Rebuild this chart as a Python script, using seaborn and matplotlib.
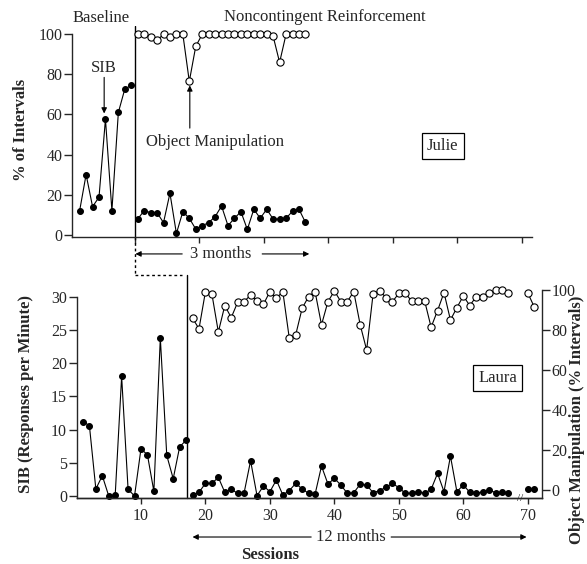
import matplotlib
matplotlib.use("Agg")
import matplotlib.pyplot as plt
import seaborn as sns

# ---- Julie (top panel), % of intervals ----
julie_bl_sessions = list(range(1, 10))
julie_bl_sib = [12, 30, 14, 18.7, 57.7, 12, 61, 72.7, 74.5]
julie_tx_sessions = list(range(10, 37))
julie_tx_sib = [7.8, 12, 11, 11, 6, 20.7, 0.6, 11.5, 8.2, 2.8, 4.5, 6, 9, 14.3,
                4.5, 8.2, 11.5, 2.6, 12.7, 8.2, 12.7, 7.8, 7.8, 8.2, 11.7, 12.7, 6.2]
julie_tx_obj = [100, 100, 98.7, 97, 100, 98.7, 100, 100, 76.5, 94,
                100, 100, 100, 100, 100, 100, 100, 100, 100, 100, 100,
                99, 86, 100, 100, 100, 100]

# ---- Laura (bottom panel) ----
laura_bl_sessions = list(range(1, 18))
laura_bl_sib = [11.2, 10.6, 1.05, 3.05, 0, 0.1, 18.0, 1.0, 0, 7.1, 6.2, 0.7,
                23.8, 6.1, 2.6, 7.4, 8.4]
laura_tx_sessions = list(range(18, 68))
laura_tx_sib = [0.15, 0.55, 1.9, 1.9, 2.8, 0.55, 1.0, 0.4, 0.5, 5.3,
                0.05, 1.5, 0.65, 2.4, 0.15, 0.8, 1.9, 1.05, 0.4, 0.25,
                4.5, 1.8, 2.65, 1.65, 0.4, 0.5, 1.75, 1.65, 0.5, 0.8,
                1.3, 1.9, 1.25, 0.4, 0.4, 0.65, 0.4, 1.0, 3.4, 0.65,
                6.0, 0.65, 1.65, 0.55, 0.5, 0.55, 0.9, 0.5, 0.55, 0.4]
laura_tx_obj = [85.9, 80.6, 99.2, 98, 79, 92.2, 86.2, 93.9, 94.2, 97.5,
                94.5, 92.9, 99.2, 95.9, 99.2, 76, 77.6, 90.9, 96.7, 99.2,
                82.6, 94.2, 99.5, 94.2, 94.2, 99.2, 82.6, 70, 98, 99.7,
                96.2, 94.2, 98.3, 98.3, 94.5, 94.5, 94.5, 81.4, 89.7, 98.7,
                85, 91.2, 97, 92.2, 96.7, 96.7, 98.3, 100, 100, 98.5]
laura_late_sessions = [70, 71]
laura_late_sib = [1.0, 1.0]
laura_late_obj = [98.5, 91.5]

sib_ticks = [0, 5, 10, 15, 20, 25, 30]
pct_ticks = [0, 20, 40, 60, 80, 100]
session_ticks = [10, 20, 30, 40, 50, 60, 70]
julie_phase = 9.55
laura_phase = 17.2

sns.set_theme(style="ticks")
plt.rcParams["font.family"] = ["Liberation Serif", "DejaVu Serif"]
plt.rcParams["axes.linewidth"] = 1.0

W, H = 587, 564
fig = plt.figure(figsize=(W / 100, H / 100), dpi=100)


def series(ax, x, y, filled):
    sns.lineplot(x=x, y=y, ax=ax, color="black", linewidth=0.8, marker="o",
                 markersize=4.2 if filled else 5.2,
                 markerfacecolor="black" if filled else "white",
                 markeredgecolor="black", markeredgewidth=0.8,
                 errorbar=None, legend=False, zorder=3, clip_on=False)


# ---------------- top panel: Julie ----------------
axt = fig.add_axes([72.3 / W, (H - 237.3) / H, (531.6 - 72.3) / W, 211 / H])
series(axt, julie_bl_sessions, julie_bl_sib, True)
series(axt, julie_tx_sessions, julie_tx_sib, True)
series(axt, julie_tx_sessions, julie_tx_obj, False)
axt.set_xlim(-0.14, 71.07)
axt.set_ylim(-1.3, 104)
axt.set_yticks(pct_ticks)
axt.set_xticks([julie_phase + 10 * k for k in range(7)])
axt.set_xticklabels([])
axt.spines[["top", "right"]].set_visible(False)
axt.spines["left"].set_bounds(-1.3, 100)
axt.tick_params(axis="y", length=6, width=1, pad=1, labelsize=11.5)
axt.tick_params(axis="x", length=4, width=1)
axt.set_xlabel("")
axt.set_ylabel("")
axt.plot([julie_phase, julie_phase], [-1.3, 104], color="black", lw=1.0)
axt.plot([julie_phase, julie_phase], [-1.3, -20], color="black", lw=1.0,
         ls=(0, (2, 2)), clip_on=False)
axt.plot([julie_phase, laura_phase - 0.3], [-20, -20], color="black", lw=1.0,
         ls=(0, (2, 2)), clip_on=False)

txt = dict(fontsize=12, ha="center", va="center", annotation_clip=False)
axt.annotate("Baseline", xy=(4.3, 108.1), **txt)
axt.annotate("Noncontingent Reinforcement", xy=(39.0, 108.8), **txt)
axt.annotate("SIB", xy=(4.8, 83.2), **txt)
axt.annotate("", xy=(4.8, 60.5), xytext=(4.8, 78.5),
             arrowprops=dict(arrowstyle="-|>", color="black", lw=0.8,
                             mutation_scale=8, shrinkA=0, shrinkB=0))
axt.annotate("Object Manipulation", xy=(22.0, 46.4), **txt)
axt.annotate("", xy=(18.08, 74.5), xytext=(18.08, 53.2),
             arrowprops=dict(arrowstyle="-|>", color="black", lw=0.8,
                             mutation_scale=8, shrinkA=0, shrinkB=0))
axt.text(57.3, 44.3, "Julie", fontsize=12, ha="center", va="center",
         bbox=dict(boxstyle="square,pad=0.3", fc="white", ec="black", lw=0.9))
axt.annotate("3 months", xy=(22.9, -9.6), **txt)
arr = dict(arrowstyle="-|>", color="black", lw=0.8, mutation_scale=8,
           shrinkA=0, shrinkB=0)
axt.annotate("", xy=(julie_phase + 0.1, -9.6), xytext=(16.9, -9.6),
             arrowprops=arr, annotation_clip=False)
axt.annotate("", xy=(36.6, -9.6), xytext=(29.3, -9.6),
             arrowprops=arr, annotation_clip=False)

# ---------------- bottom panel: Laura ----------------
axb = fig.add_axes([76.7 / W, (H - 498.3) / H, (542 - 76.7) / W, 208.5 / H])
ax2 = axb.twinx()
series(axb, laura_bl_sessions, laura_bl_sib, True)
series(axb, laura_tx_sessions, laura_tx_sib, True)
series(axb, laura_late_sessions, laura_late_sib, True)
series(ax2, laura_tx_sessions, laura_tx_obj, False)
series(ax2, laura_late_sessions, laura_late_obj, False)
axb.set_xlim(0.03, 72.2)
axb.set_ylim(-0.35, 31.05)
ax2.set_ylim(-4.15, 100.1)
axb.set_yticks(sib_ticks)
ax2.set_yticks(pct_ticks)
axb.set_xticks(session_ticks)
for a in (axb, ax2):
    a.spines["top"].set_visible(False)
    a.set_xlabel("")
    a.set_ylabel("")
axb.spines["right"].set_visible(False)
ax2.spines["left"].set_visible(False)
axb.spines["left"].set_bounds(-0.35, 30)
ax2.spines["right"].set_bounds(-4.15, 100)
axb.tick_params(axis="y", length=6, width=1, pad=1, labelsize=11.5)
ax2.tick_params(axis="y", length=6, width=1, pad=1, labelsize=11.5)
axb.tick_params(axis="x", length=4, width=1, pad=3, labelsize=11.5)
axb.plot([laura_phase, laura_phase], [-0.35, 33.3], color="black", lw=1.0,
         clip_on=False)
axb.text(68.8, -0.35, "//", fontsize=8, ha="center", va="center")

axb.text(65.3, 17.8, "Laura", fontsize=12, ha="center", va="center",
         bbox=dict(boxstyle="square,pad=0.3", fc="white", ec="black", lw=0.9))
axb.annotate("12 months", xy=(42.6, -6.18), **txt)
axb.annotate("", xy=(18.0, -6.18), xytext=(36.4, -6.18),
             arrowprops=arr, annotation_clip=False)
axb.annotate("", xy=(69.8, -6.18), xytext=(48.8, -6.18),
             arrowprops=arr, annotation_clip=False)
axb.annotate("Sessions", xy=(30.0, -8.9), fontsize=12, fontweight="bold",
             ha="center", va="center", annotation_clip=False)

fig.text(21 / W, 1 - 130 / H, "% of Intervals", rotation=90, ha="center",
         va="center", fontsize=12, fontweight="bold")
fig.text(26 / W, 1 - 394 / H, "SIB (Responses per Minute)", rotation=90,
         ha="center", va="center", fontsize=12, fontweight="bold")
fig.text(577 / W, 1 - 420 / H, "Object Manipulation (% Intervals)", rotation=90,
         ha="center", va="center", fontsize=12, fontweight="bold")

fig.savefig("out.png", dpi=100)
